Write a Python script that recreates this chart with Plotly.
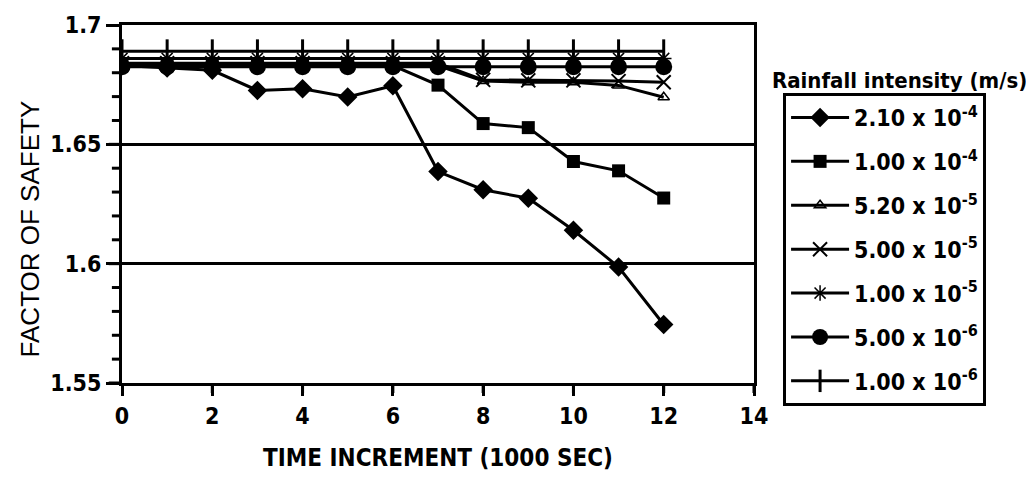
import plotly.graph_objects as go

time_x = [0, 1, 2, 3, 4, 5, 6, 7, 8, 9, 10, 11, 12]

fs_210e4 = [1.683, 1.682, 1.681, 1.6726, 1.6733, 1.6698, 1.6745, 1.6386, 1.631, 1.6274, 1.614, 1.5986, 1.5745]
fs_100e4 = [1.683, 1.683, 1.683, 1.683, 1.683, 1.683, 1.683, 1.6748, 1.6587, 1.657, 1.6428, 1.6389, 1.6275]
fs_520e5 = [1.683, 1.683, 1.683, 1.683, 1.683, 1.683, 1.683, 1.683, 1.6765, 1.676, 1.676, 1.6747, 1.6697]
fs_500e5 = [1.684, 1.684, 1.684, 1.684, 1.684, 1.684, 1.684, 1.684, 1.677, 1.6768, 1.6768, 1.6765, 1.676]
fs_100e5 = [1.686] * 13
fs_500e6 = [1.6825] * 13
fs_100e6 = [1.689] * 13

series_names = [
    "2.10 x 10<sup>-4</sup>",
    "1.00 x 10<sup>-4</sup>",
    "5.20 x 10<sup>-5</sup>",
    "5.00 x 10<sup>-5</sup>",
    "1.00 x 10<sup>-5</sup>",
    "5.00 x 10<sup>-6</sup>",
    "1.00 x 10<sup>-6</sup>",
]
series_values = [fs_210e4, fs_100e4, fs_520e5, fs_500e5, fs_100e5, fs_500e6, fs_100e6]

y_tickvals = [1.55, 1.6, 1.65, 1.7]
y_ticktext = ["1.55", "1.6", "1.65", "1.7"]
y_minor_tickvals = [1.56, 1.57, 1.58, 1.59, 1.61, 1.62, 1.63, 1.64, 1.66, 1.67, 1.68, 1.69]
x_tickvals = [0, 2, 4, 6, 8, 10, 12, 14]
x_ticktext = ["0", "2", "4", "6", "8", "10", "12", "14"]

markers = [
    dict(symbol="diamond", size=15, color="black"),
    dict(symbol="square", size=13, color="black"),
    dict(symbol="triangle-up-open", size=10, color="black", line=dict(width=1.5, color="black")),
    dict(symbol="x-thin-open", size=14, color="black", line=dict(width=2, color="black")),
    dict(symbol="asterisk-open", size=13, color="black", line=dict(width=1.5, color="black")),
    dict(symbol="circle", size=17, color="black"),
    dict(symbol="line-ns-open", size=17, color="black", line=dict(width=3, color="black")),
]

NARROW = "DejaVu Sans Condensed, Liberation Sans Narrow, Arial Narrow, sans-serif"

fig = go.Figure()
for i, (name, vals, mk) in enumerate(zip(series_names, series_values, markers)):
    fig.add_trace(go.Scatter(
        x=time_x, y=vals, name=name, mode="lines+markers",
        line=dict(color="black", width=3),
        marker=mk, legendgroup=f"g{i}",
    ))

# tick marks on the left (major + minor) and bottom, drawn through the axis scales
tick_line = dict(color="black", width=3)
for v in y_tickvals:
    fig.add_shape(type="line", xref="paper", yref="y", x0=-0.021, x1=0, y0=v, y1=v,
                  line=tick_line, layer="above")
for v in y_minor_tickvals:
    fig.add_shape(type="line", xref="paper", yref="y", x0=-0.016, x1=0, y0=v, y1=v,
                  line=tick_line, layer="above")
for v in x_tickvals:
    fig.add_shape(type="line", xref="x", yref="paper", x0=v, x1=v, y0=-0.028, y1=0,
                  line=tick_line, layer="above")

fig.update_layout(
    width=1026, height=482,
    margin=dict(l=122, r=272, t=20, b=99),
    paper_bgcolor="white", plot_bgcolor="white",
    showlegend=True,
    legend=dict(
        x=1.046, y=0.81, xanchor="left", yanchor="top",
        bordercolor="black", borderwidth=3,
        font=dict(family=NARROW, size=23, color="black", weight="bold"),
        itemwidth=58, tracegroupgap=11,
        bgcolor="white",
    ),
    xaxis=dict(
        range=[0, 14], tickvals=x_tickvals, ticktext=x_ticktext,
        showline=True, linecolor="black", linewidth=3, mirror=True,
        ticks="outside", ticklen=10, tickwidth=3, tickcolor="black",
        showgrid=False, zeroline=False,
        tickfont=dict(family=NARROW, size=23, color="black", weight="bold"),
        title=dict(text="TIME INCREMENT (1000 SEC)", standoff=22,
                   font=dict(family=NARROW, size=24, color="black", weight="bold")),
    ),
    yaxis=dict(
        range=[1.55, 1.7], tickvals=y_tickvals, ticktext=y_ticktext,
        showline=True, linecolor="black", linewidth=3, mirror=True,
        ticks="outside", ticklen=13, tickwidth=3, tickcolor="black",
        showgrid=True, gridcolor="black", gridwidth=3, zeroline=False,
        tickfont=dict(family=NARROW, size=23, color="black", weight="bold"),
    ),
    annotations=[
        dict(
            text="Rainfall intensity (m/s)", xref="paper", yref="paper",
            x=1.025, y=0.845, xanchor="left", yanchor="middle", showarrow=False,
            font=dict(family=NARROW, size=22, color="black", weight="bold"),
        ),
        dict(
            text="FACTOR OF SAFETY", xref="paper", yref="paper",
            x=-0.145, y=0.43, xanchor="center", yanchor="middle", showarrow=False,
            textangle=-90,
            font=dict(family="Liberation Sans, Arial, sans-serif", size=26, color="black"),
        ),
    ],
)

fig.write_html("out.html")
